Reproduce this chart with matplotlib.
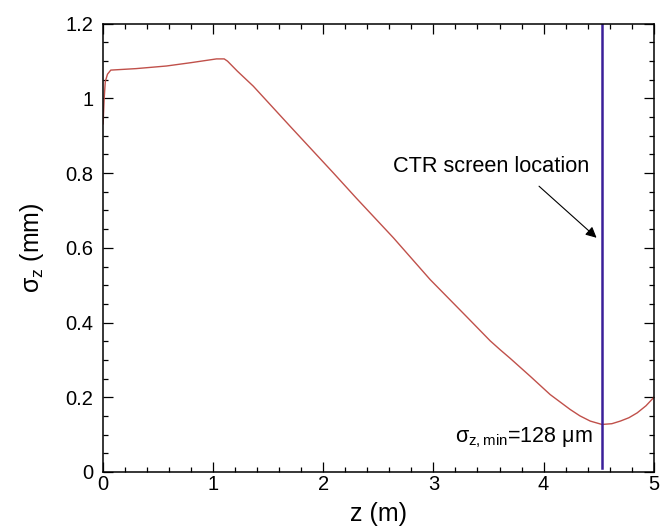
import numpy as np
import matplotlib
matplotlib.use("Agg")
import matplotlib.pyplot as plt
from matplotlib.ticker import MultipleLocator

plt.rcParams['font.family'] = ['Liberation Sans', 'DejaVu Sans']
plt.rcParams['mathtext.fontset'] = 'custom'
plt.rcParams['mathtext.rm'] = 'Liberation Sans'
plt.rcParams['mathtext.it'] = 'Liberation Sans'
plt.rcParams['mathtext.bf'] = 'Liberation Sans:bold'

# bunch length along the beamline
z = [0.0, 0.01, 0.02, 0.04, 0.07, 0.3, 0.576, 0.8, 1.03, 1.1, 1.13, 1.22,
     1.364, 1.697, 2.09, 2.3, 2.636, 2.97, 3.3, 3.515, 3.606, 3.697, 3.879,
     4.06, 4.242, 4.33, 4.424, 4.53, 4.62, 4.697, 4.775, 4.85, 4.93, 5.0]
sigma_z = [0.932, 1.0, 1.045, 1.065, 1.076, 1.080, 1.087, 1.096, 1.106,
           1.106, 1.100, 1.073, 1.033, 0.926, 0.801, 0.733, 0.627, 0.515,
           0.416, 0.351, 0.327, 0.304, 0.256, 0.207, 0.167, 0.150, 0.136,
           0.127, 0.129, 0.136, 0.145, 0.158, 0.177, 0.199]
z_screen = 4.53
sigma_min_um = 128

fig = plt.figure(figsize=(6.65, 5.29), dpi=100)
ax = fig.add_axes([0.155, 0.108, 0.828, 0.847])

ax.plot(z, sigma_z, color='#c0504a', lw=1.0)
ax.plot([z_screen, z_screen], [0.01, 1.2], color='#3a1f99', lw=1.8)

ax.annotate('', xy=(4.5, 0.622), xytext=(3.94, 0.77),
            arrowprops=dict(arrowstyle='-|>', color='black', lw=0.8,
                            mutation_scale=16))
ax.text(2.634, 0.817, 'CTR screen location', fontsize=15.7, va='center', ha='left')
ax.text(3.197, 0.079, r'$\sigma_{\rm z,min}$=%d $\mu$m' % sigma_min_um,
        fontsize=15.5, va='baseline', ha='left')

ax.set_xlim(0, 5)
ax.set_ylim(0, 1.2)
ax.xaxis.set_major_locator(MultipleLocator(1))
ax.xaxis.set_minor_locator(MultipleLocator(0.2))
ax.yaxis.set_major_locator(MultipleLocator(0.2))
ax.yaxis.set_minor_locator(MultipleLocator(0.05))
ax.set_yticks([0, 0.2, 0.4, 0.6, 0.8, 1.0, 1.2])
ax.set_yticklabels(['0', '0.2', '0.4', '0.6', '0.8', '1', '1.2'])

ax.tick_params(which='both', direction='in', top=True, right=True,
               labelsize=14.5, width=0.9)
ax.tick_params(which='major', length=7)
ax.tick_params(which='minor', length=3.5)
ax.tick_params(axis='x', pad=2)
ax.tick_params(axis='y', pad=7)
for sp in ax.spines.values():
    sp.set_linewidth(1.1)

ax.set_xlabel('z (m)', fontsize=18, labelpad=6)
ax.set_ylabel(r'$\sigma_{\rm z}$ (mm)', fontsize=18, labelpad=14)

fig.savefig('out.png', dpi=100)
